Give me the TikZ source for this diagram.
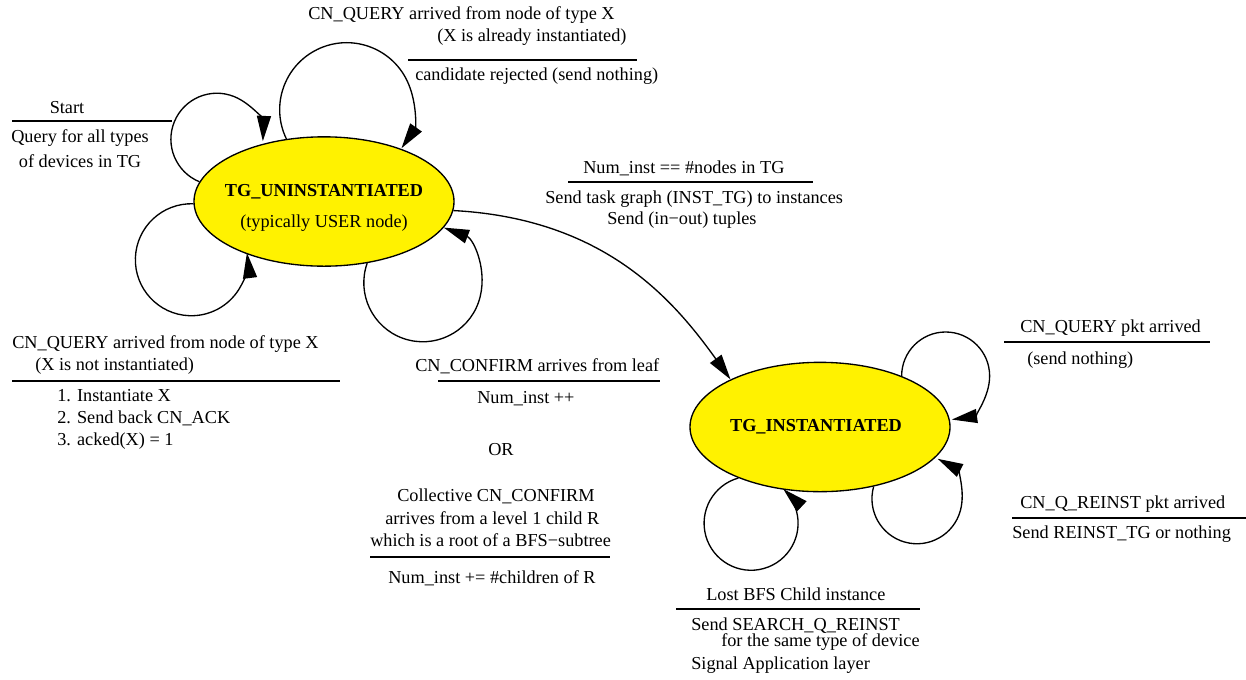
\documentclass[tikz,border=0pt]{standalone}
\usepackage{fontspec}
\setmainfont{Liberation Serif}
\usetikzlibrary{shapes.geometric,arrows.meta}

\begin{document}
\begin{tikzpicture}[x=0.75pt,y=0.75pt,
    every node/.style={font=\fontsize{13.7}{16.5}\selectfont, inner sep=0pt},
    state/.style={ellipse, draw, line width=1pt, fill=yellow,
      minimum width=195pt, minimum height=97pt},
    txt/.style={anchor=mid west},
    bar/.style={line width=0.8pt}]
  \useasboundingbox (0,0) rectangle (1246,-679);
  % states
  \draw
    (324,-201.5) node[state] (u){}
    (820,-427) node[state] (i){};
  \draw
    (324,-192) node (un){\textbf{TG\_UNINSTANTIATED}}
    (324,-223) node (ut){(typically USER node)}
    (816,-427) node (in){\textbf{TG\_INSTANTIATED}};
  % labels
  \draw
    (67,-108) node (st1){Start}
    (80,-138) node (st2){Query for all types}
    (80,-161) node (st3){of devices in TG}
    (308,-16) node[txt] (rj1){CN\_QUERY arrived from node of type X}
    (437,-38) node[txt] (rj2){(X is already instantiated)}
    (415,-77) node[txt] (rj3){candidate rejected (send nothing)}
    (583,-170) node[txt] (tg1){Num\_inst == \#nodes in TG}
    (545,-200) node[txt] (tg2){Send task graph (INST\_TG) to instances}
    (607,-221) node[txt] (tg3){Send (in−out) tuples}
    (12,-345) node[txt] (nq1){CN\_QUERY arrived from node of type X}
    (35,-367) node[txt] (nq2){(X is not instantiated)}
    (57,-398) node[txt] (nq3){1. Instantiate X}
    (57,-420) node[txt] (nq4){2. Send back CN\_ACK}
    (57,-442) node[txt] (nq5){3. acked(X) = 1}
    (415,-368) node[txt] (cf1){CN\_CONFIRM arrives from leaf}
    (477,-400) node[txt] (cf2){Num\_inst ++}
    (488,-452) node[txt] (cf3){OR}
    (397,-498) node[txt] (cf4){Collective CN\_CONFIRM}
    (385,-521) node[txt] (cf5){arrives from a level 1 child R}
    (370,-543) node[txt] (cf6){which is a root of a BFS−subtree}
    (388,-580) node[txt] (cf7){Num\_inst += \#children of R}
    (706,-597) node[txt] (lb1){Lost BFS Child instance}
    (691,-627) node[txt] (lb2){Send SEARCH\_Q\_REINST}
    (721,-643) node[txt] (lb3){for the same type of device}
    (691,-666) node[txt] (lb4){Signal Application layer}
    (1020,-329) node[txt] (pq1){CN\_QUERY pkt arrived}
    (1027,-361) node[txt] (pq2){(send nothing)}
    (1020,-505) node[txt] (pr1){CN\_Q\_REINST pkt arrived}
    (1012,-535) node[txt] (pr2){Send REINST\_TG or nothing};
  % label bars
  \begin{scope}[bar]
    \draw (12,-121) -- (172,-121);
    \draw (408,-60) -- (637,-60);
    \draw (568,-182) -- (813,-182);
    \draw (12,-381) -- (340,-381);
    \draw (438,-381) -- (660,-381);
    \draw (370,-557) -- (610,-557);
    \draw (676,-609) -- (920,-609);
    \draw (1004,-342) -- (1210,-342);
    \draw (1012,-518) -- (1246,-518);
  \end{scope}
  % transitions
  \begin{scope}[-{Triangle[length=19pt,width=10.5pt]}, line width=1pt]
    \draw (u.-4.7) .. controls +(150,-8) and +(-58,81) .. (i.152);
    \draw (u.171.8) arc[start angle=247.7, end angle=-2.5, radius=46];
    \draw (u.121.2) arc[start angle=205.9, end angle=-35.1, radius=67];
    \draw (u.181.5) arc[start angle=87.9, end angle=367.1, radius=56];
    \draw (u.-55.1) arc[start angle=160.6, end angle=429.2, radius=59];
    \draw (i.32.1) arc[start angle=180, end angle=-81.9, radius=44];
    \draw (i.-48.5) arc[start angle=164.3, end angle=422.6, radius=45];
    \draw (i.212.6) arc[start angle=105.7, end angle=406.7, radius=47];
  \end{scope}
\end{tikzpicture}
\end{document}
